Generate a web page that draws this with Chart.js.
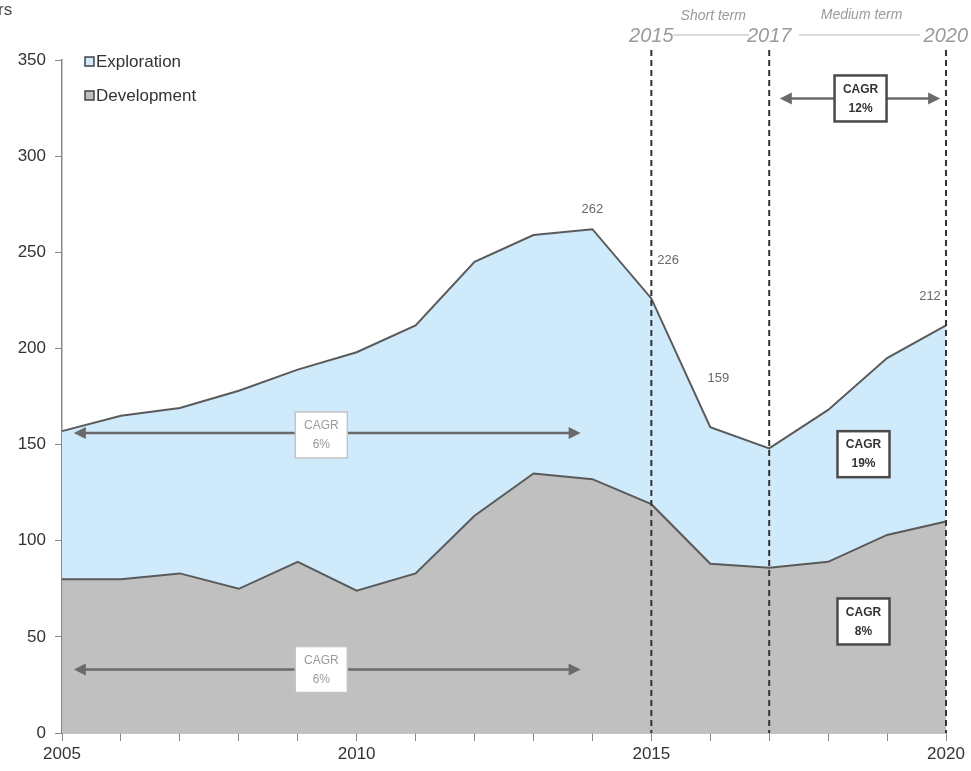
<!DOCTYPE html>
<html>
<head>
<meta charset="utf-8">
<script src="https://cdn.jsdelivr.net/npm/chart.js@4.4.1/dist/chart.umd.min.js"></script>
<style>
  html, body { margin: 0; padding: 0; background: #fff; }
  #wrap { width: 971px; height: 771px; }
</style>
</head>
<body>
<div id="wrap"><canvas id="chart" width="971" height="771"></canvas></div>
<script>
// values
const years = [2005, 2006, 2007, 2008, 2009, 2010, 2011, 2012, 2013, 2014, 2015, 2016, 2017, 2018, 2019, 2020];
const development = [80, 80, 83, 75, 89, 74, 83, 113, 135, 132, 119, 88, 86, 89, 103, 110];
const exploration = [77, 85, 86, 103, 100, 124, 129, 132, 124, 130, 107, 71, 62, 79, 92, 102];
const shownYears = [2005, 2010, 2015, 2020];
const phaseYears = [2015, 2017, 2020];
const phaseNames = ['Short term', 'Medium term'];
const labelledYears = [2014, 2015, 2016, 2020];
const seriesNames = ['Exploration', 'Development'];
const cagrLabels = ['6%', '6%', '12%', '19%', '8%'];

const blueFill = '#cfeafb';
const greyFill = '#c0c0c0';
const lineColor = '#5a5a5a';

function drawArrow(ctx, x1, x2, y) {
  ctx.save();
  ctx.strokeStyle = '#6a6a6a';
  ctx.fillStyle = '#6a6a6a';
  ctx.lineWidth = 2.5;
  ctx.beginPath();
  ctx.moveTo(x1 + 8, y);
  ctx.lineTo(x2 - 8, y);
  ctx.stroke();
  [[x1, 1], [x2, -1]].forEach(([x, d]) => {
    ctx.beginPath();
    ctx.moveTo(x, y);
    ctx.lineTo(x + d * 12, y - 6);
    ctx.lineTo(x + d * 12, y + 6);
    ctx.closePath();
    ctx.fill();
  });
  ctx.restore();
}

function drawBox(ctx, cx, cy, text, strong) {
  const w = 52, h = 46;
  ctx.save();
  ctx.fillStyle = '#fff';
  ctx.fillRect(cx - w / 2, cy - h / 2, w, h);
  ctx.strokeStyle = strong ? '#4a4a4a' : '#c4c4c4';
  ctx.lineWidth = strong ? 2.5 : 1.5;
  ctx.strokeRect(cx - w / 2, cy - h / 2, w, h);
  ctx.fillStyle = strong ? '#333' : '#9a9a9a';
  ctx.font = (strong ? 'bold ' : '') + '12px "Liberation Sans", Arial, sans-serif';
  ctx.textAlign = 'center';
  ctx.textBaseline = 'middle';
  ctx.fillText('CAGR', cx, cy - 9);
  ctx.fillText(text, cx, cy + 10);
  ctx.restore();
}

const annotations = {
  id: 'annotations',
  afterDatasetsDraw(chart) {
    const ctx = chart.ctx;
    const xs = chart.scales.x, ys = chart.scales.y;
    const xAt = yr => {
      const i = Math.floor(yr - years[0]);
      const a = xs.getPixelForValue(i), b = xs.getPixelForValue(Math.min(i + 1, years.length - 1));
      return a + (b - a) * (yr - years[0] - i);
    };
    const bottom = chart.chartArea.bottom;

    // phase dividers
    ctx.save();
    ctx.strokeStyle = '#333';
    ctx.lineWidth = 2;
    ctx.setLineDash([6, 4]);
    phaseYears.forEach(yr => {
      const x = xs.getPixelForValue(years.indexOf(yr));
      ctx.beginPath();
      ctx.moveTo(x, 50);
      ctx.lineTo(x, bottom);
      ctx.stroke();
    });
    ctx.restore();

    // phase headings
    ctx.save();
    ctx.fillStyle = '#9a9a9a';
    ctx.font = 'italic 20px "Liberation Sans", Arial, sans-serif';
    ctx.textBaseline = 'middle';
    const px = phaseYears.map(yr => xs.getPixelForValue(years.indexOf(yr)));
    ctx.textAlign = 'center';
    ctx.fillText(String(phaseYears[0]), px[0], 36);
    ctx.fillText(String(phaseYears[1]), px[1], 36);
    ctx.textAlign = 'right';
    ctx.fillText(String(phaseYears[2]), px[2] + 22, 36);
    ctx.strokeStyle = '#b5b5b5';
    ctx.lineWidth = 1.2;
    ctx.beginPath();
    ctx.moveTo(px[0] + 22, 35); ctx.lineTo(px[1] - 20, 35);
    ctx.moveTo(px[1] + 30, 35); ctx.lineTo(px[2] - 26, 35);
    ctx.stroke();
    ctx.font = 'italic 14px "Liberation Sans", Arial, sans-serif';
    ctx.textAlign = 'center';
    ctx.fillText(phaseNames[0], (px[0] + px[1]) / 2 + 3, 16);
    ctx.fillText(phaseNames[1], (px[1] + px[2]) / 2 + 4, 15);
    ctx.restore();

    // value labels on the total line
    ctx.save();
    ctx.fillStyle = '#6a6a6a';
    ctx.font = '13px "Liberation Sans", Arial, sans-serif';
    ctx.textBaseline = 'middle';
    labelledYears.forEach(yr => {
      const i = years.indexOf(yr);
      const total = development[i] + exploration[i];
      const x = xs.getPixelForValue(i), y = ys.getPixelForValue(total);
      let dx = 0, dy = -20;
      ctx.textAlign = 'center';
      if (yr === 2015) { dx = 6; dy = -38; ctx.textAlign = 'left'; }
      if (yr === 2016) { dx = 8; dy = -49; }
      if (yr === 2020) { dx = -16; dy = -29; }
      ctx.fillText(String(total), x + dx, y + dy);
    });
    ctx.restore();

    // CAGR arrows and boxes
    drawArrow(ctx, xAt(2005.2), xAt(2013.8), ys.getPixelForValue(156));
    drawArrow(ctx, xAt(2005.2), xAt(2013.8), ys.getPixelForValue(33));
    drawArrow(ctx, xAt(2017.18), xAt(2019.9), ys.getPixelForValue(330));
    drawBox(ctx, xAt(2009.4), ys.getPixelForValue(155), cagrLabels[0], false);
    drawBox(ctx, xAt(2009.4), ys.getPixelForValue(33), cagrLabels[1], false);
    drawBox(ctx, xAt(2018.55), ys.getPixelForValue(330), cagrLabels[2], true);
    drawBox(ctx, xAt(2018.6), ys.getPixelForValue(145), cagrLabels[3], true);
    drawBox(ctx, xAt(2018.6), ys.getPixelForValue(58), cagrLabels[4], true);

    // legend
    ctx.save();
    ctx.font = '17px "Liberation Sans", Arial, sans-serif';
    ctx.textBaseline = 'middle';
    ctx.textAlign = 'left';
    [blueFill, greyFill].forEach((c, k) => {
      const y = 62 + k * 34;
      ctx.fillStyle = c;
      ctx.fillRect(85, y - 5, 9, 9);
      ctx.strokeStyle = '#444';
      ctx.lineWidth = 1.5;
      ctx.strokeRect(85, y - 5, 9, 9);
      ctx.fillStyle = '#333';
      ctx.fillText(seriesNames[k], 96, y);
    });
    // cut-off unit label in the corner
    ctx.fillStyle = '#444';
    ctx.fillText('rs', -2, 10);
    ctx.restore();
  }
};

new Chart(document.getElementById('chart'), {
  type: 'line',
  data: {
    labels: years,
    datasets: [
      {
        label: seriesNames[1],
        data: development,
        backgroundColor: greyFill,
        borderColor: lineColor,
        borderWidth: 2,
        fill: 'origin',
        pointRadius: 0,
        tension: 0
      },
      {
        label: seriesNames[0],
        data: exploration,
        backgroundColor: blueFill,
        borderColor: lineColor,
        borderWidth: 2,
        fill: '-1',
        pointRadius: 0,
        tension: 0
      }
    ]
  },
  options: {
    responsive: false,
    animation: false,
    devicePixelRatio: 1,
    layout: { padding: { top: 60, right: 25, left: 0, bottom: 0 } },
    plugins: {
      legend: { display: false },
      tooltip: { enabled: false }
    },
    scales: {
      x: {
        offset: false,
        afterFit: s => { s.height = 38; },
        grid: { drawOnChartArea: false, drawTicks: true, tickLength: 8, color: '#888' },
        border: { color: '#888', width: 1.5 },
        ticks: {
          autoSkip: false,
          maxRotation: 0,
          padding: 3,
          color: '#333',
          font: { size: 17, family: '"Liberation Sans", Arial, sans-serif' },
          callback: (v, i) => shownYears.includes(years[i]) ? String(years[i]) : ''
        }
      },
      y: {
        stacked: true,
        min: 0,
        max: 350,
        afterFit: s => { s.width = 62; },
        grid: { drawOnChartArea: false, drawTicks: true, tickLength: 7, color: '#888' },
        border: { color: '#888', width: 1.5 },
        ticks: {
          stepSize: 50,
          padding: 9,
          color: '#333',
          font: { size: 17, family: '"Liberation Sans", Arial, sans-serif' }
        }
      }
    }
  },
  plugins: [annotations]
});
</script>
</body>
</html>
